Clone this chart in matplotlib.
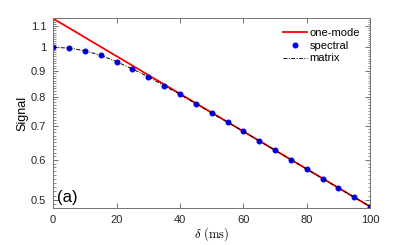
import numpy as np
import matplotlib.pyplot as plt

plt.rcParams['font.family'] = ['Liberation Sans', 'DejaVu Sans']
plt.rcParams['mathtext.fontset'] = 'cm'

# one-mode approximation (straight on log axis)
x_one = [0, 100]
y_one = [1.14, 0.485]

# spectral / matrix results
delta = [0, 5, 10, 15, 20, 25, 30, 35, 40, 45, 50, 55, 60, 65, 70, 75, 80, 85, 90, 95, 100]
spectral = [1.000, 0.997, 0.985, 0.9645, 0.937, 0.907, 0.875, 0.840, 0.808, 0.774, 0.742,
            0.712, 0.6825, 0.654, 0.6266, 0.600, 0.575, 0.551, 0.528, 0.506, 0.485]
matrix = [1.000, 0.997, 0.985, 0.9645, 0.937, 0.907, 0.875, 0.840, 0.808, 0.774, 0.742,
          0.712, 0.6825, 0.654, 0.6266, 0.600, 0.575, 0.551, 0.528, 0.506, 0.485]

yticks = [0.5, 0.6, 0.7, 0.8, 0.9, 1.0, 1.1]
yticklabels = ['0.5', '0.6', '0.7', '0.8', '0.9', '1', '1.1']

fig = plt.figure(figsize=(4.09, 2.45), dpi=100)
ax = fig.add_axes([0.130, 0.151, 0.775, 0.776])

ax.plot(x_one, y_one, color='red', lw=1.3, label='one-mode')
ax.plot(delta, spectral, 'o', color='blue', ms=3.3, label='spectral')
ax.plot(delta, matrix, color='black', lw=0.7, ls=(0, (4, 1.5, 1, 1.5)), label='matrix')

ax.set_yscale('log')
ax.set_xlim(0, 100)
ax.set_ylim(0.482, 1.1435)
ax.set_yticks(yticks)
ax.set_yticklabels(yticklabels)
ax.set_yticks(np.arange(0.49, 1.14, 0.01), minor=True)
ax.set_yticklabels([], minor=True)
ax.set_xticks([0, 20, 40, 60, 80, 100])

ax.tick_params(which='both', direction='in', top=True, right=True, labelsize=8,
               color='0.35', labelcolor='0.15')
ax.tick_params(which='major', length=3.5, width=0.6, pad=5)
ax.tick_params(which='minor', length=1.8, width=0.5)
for s in ax.spines.values():
    s.set_color('0.45')
    s.set_linewidth(0.7)

ax.set_xlabel(r'$\delta\ (\mathrm{ms})$', fontsize=9, labelpad=0)
ax.set_ylabel('Signal', fontsize=9, labelpad=2)
ax.text(0.012, 0.015, '(a)', transform=ax.transAxes, fontsize=12, va='bottom', ha='left')

leg = ax.legend(loc='upper right', frameon=False, fontsize=8, handlelength=2.2,
                handletextpad=0.2, labelspacing=0.25, borderaxespad=0.5)

fig.savefig('out.png', dpi=100)
